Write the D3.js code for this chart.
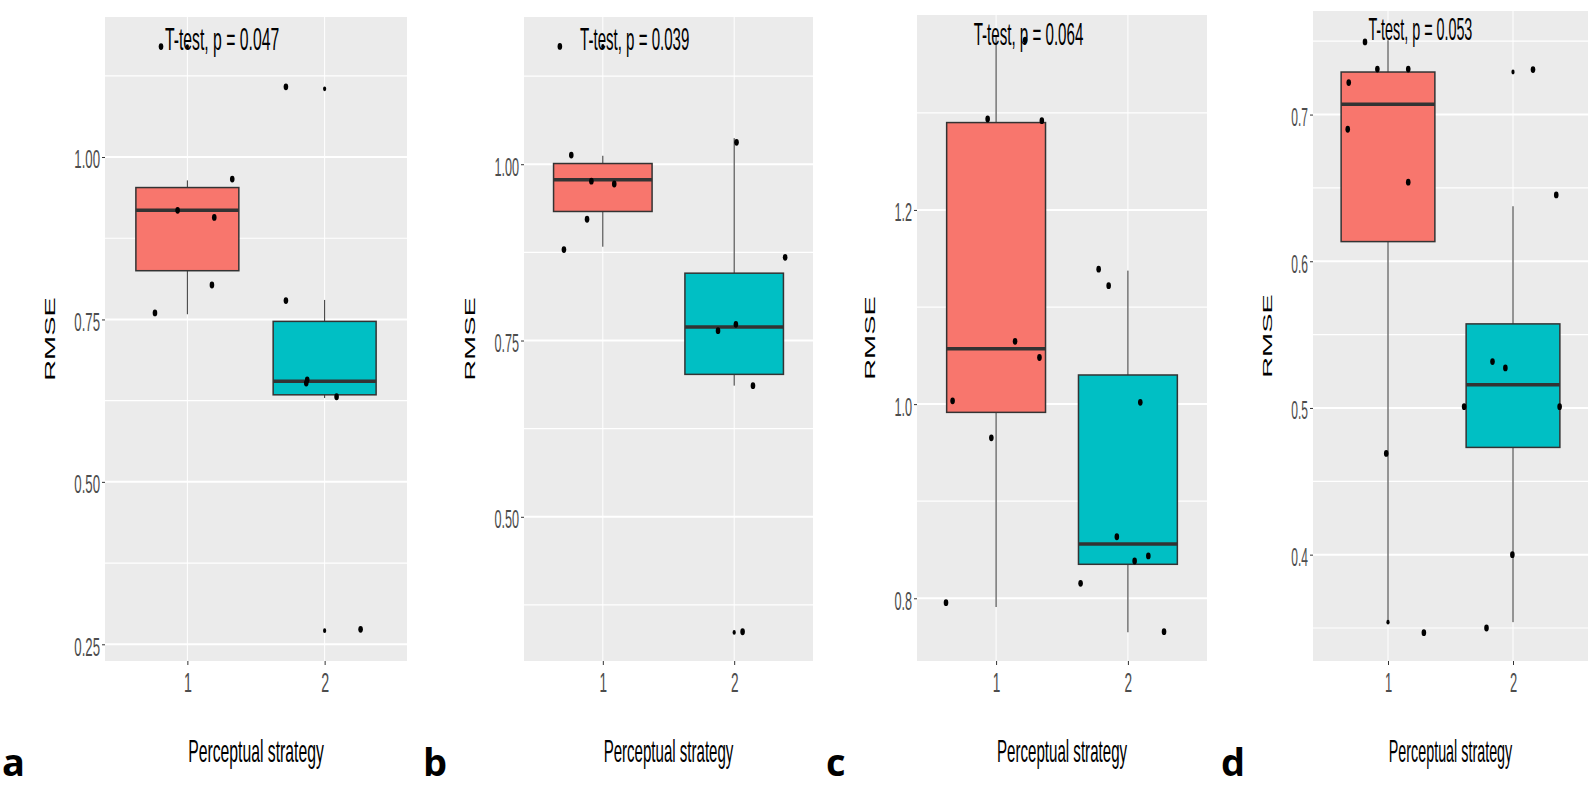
<!DOCTYPE html>
<html>
<head>
<meta charset="utf-8">
<script src="https://cdn.jsdelivr.net/npm/d3@7"></script>
<style>
body { margin: 0; background: #fff; }
svg { display: block; }
</style>
</head>
<body>
<div id="graphic"></div>
<script>
// Panels and groups
const panels = ['a', 'b', 'c', 'd'];
const groups = ['1', '2'];
const groupColors = ['#F8766D', '#00BFC4'];

// T-test annotation per panel, placed in data units (x, y)
const pValues = ['0.047', '0.039', '0.064', '0.053'];
const labelX = [0.837, 0.827, 0.830, 0.843];
const labelY = [1.165, 1.162, 1.370, 0.7506];

// Y scales, ticks and gridlines
const yDomains = [[0.2243, 1.2155], [0.2955, 1.2088], [0.7354, 1.4008], [0.3275, 0.7706]];
const yTicks = [[0.25, 0.50, 0.75, 1.00], [0.50, 0.75, 1.00], [0.8, 1.0, 1.2], [0.4, 0.5, 0.6, 0.7]];
const yTickLabels = [['0.25', '0.50', '0.75', '1.00'], ['0.50', '0.75', '1.00'], ['0.8', '1.0', '1.2'], ['0.4', '0.5', '0.6', '0.7']];
const yMinor = [[0.375, 0.625, 0.875, 1.125], [0.375, 0.625, 0.875, 1.125], [0.9, 1.1, 1.3], [0.35, 0.45, 0.55, 0.65, 0.75]];

// Box stats per panel and group: [lower whisker, Q1, median, Q3, upper whisker]
const boxStats = [
    [[0.758, 0.825, 0.918, 0.953, 0.964], [0.629, 0.634, 0.655, 0.747, 0.780]],
    [[0.883, 0.933, 0.978, 1.001, 1.012], [0.686, 0.702, 0.769, 0.8455, 1.037]],
    [[0.791, 0.9915, 1.057, 1.290, 1.380], [0.765, 0.835, 0.856, 1.030, 1.1375]],
    [[0.354, 0.6134, 0.707, 0.729, 0.7507], [0.354, 0.4731, 0.5159, 0.5573, 0.6375]]
];

// Outliers drawn on the group centre
const outliers = [
    [[1.17], [1.105, 0.271]],
    [[1.167], [0.336]],
    [[], []],
    [[0.354], [0.729]]
];

// Jittered points: [x offset from group centre, RMSE]
const jitter = [
    [
        [[-0.236, 0.760], [-0.071, 0.918], [0.196, 0.907], [0.327, 0.966], [0.179, 0.803], [-0.192, 1.17]],
        [[-0.282, 1.108], [-0.282, 0.779], [-0.134, 0.652], [-0.127, 0.657], [0.087, 0.631], [0.262, 0.273]]
    ],
    [
        [[-0.240, 1.013], [-0.087, 0.976], [0.087, 0.972], [-0.120, 0.922], [-0.296, 0.879], [-0.327, 1.167]],
        [[0.018, 1.031], [0.388, 0.868], [-0.123, 0.764], [0.013, 0.773], [0.143, 0.686], [0.064, 0.337]]
    ],
    [
        [[-0.064, 1.2937], [0.347, 1.292], [0.144, 1.0647], [0.329, 1.048], [-0.330, 1.0034], [-0.036, 0.9653], [-0.380, 0.7955], [0.22, 1.375]],
        [[-0.222, 1.139], [-0.146, 1.122], [0.094, 1.0018], [-0.084, 0.8634], [0.155, 0.8436], [0.051, 0.8384], [-0.359, 0.8154], [0.274, 0.7656]]
    ],
    [
        [[-0.184, 0.7495], [-0.085, 0.731], [0.162, 0.731], [-0.314, 0.7218], [-0.322, 0.690], [0.162, 0.6539], [-0.014, 0.469], [0.287, 0.3468]],
        [[0.160, 0.7307], [0.346, 0.6452], [-0.164, 0.5316], [-0.061, 0.5273], [-0.391, 0.5009], [0.373, 0.5009], [-0.005, 0.40], [-0.212, 0.350]]
    ]
];

(function(d3){

    let width = 1594, height = 788;
    const font = '"Liberation Sans", Arial, Helvetica, sans-serif';

    // Plot area of each panel on the page
    let frames = [
        { x0: 105, x1: 407, y0: 17, y1: 661, letterX: 2 },
        { x0: 524, x1: 813, y0: 17, y1: 661, letterX: 423 },
        { x0: 917, x1: 1207, y0: 15, y1: 661, letterX: 826 },
        { x0: 1313, x1: 1588, y0: 11, y1: 661, letterX: 1221 }
    ];

    let svg = d3.select('#graphic')
                .append('svg')
                .attr('width', width)
                .attr('height', height);

    svg.append('rect').attr('width', width).attr('height', height).attr('fill', '#fff');

    panels.forEach((p, i) => drawPanel(i));

    function drawPanel(i)
    {
        let f = frames[i];
        let x = d3.scaleLinear().domain([0.4, 2.6]).range([f.x0, f.x1]);
        let y = d3.scaleLinear().domain(yDomains[i]).range([f.y1, f.y0]);

        // The source picture was squeezed sideways, so text is too
        let unit = x(2) - x(1);
        let sx = 0.0037 * unit;

        let g = svg.append('g');

        g.append('rect')
         .attr('x', f.x0).attr('y', f.y0)
         .attr('width', f.x1 - f.x0).attr('height', f.y1 - f.y0)
         .attr('fill', '#ebebeb');

        // Gridlines
        g.selectAll(null).data(yMinor[i]).join('line')
         .attr('x1', f.x0).attr('x2', f.x1)
         .attr('y1', d => y(d)).attr('y2', d => y(d))
         .attr('stroke', '#fff').attr('stroke-width', 1.2);

        g.selectAll(null).data(yTicks[i]).join('line')
         .attr('x1', f.x0).attr('x2', f.x1)
         .attr('y1', d => y(d)).attr('y2', d => y(d))
         .attr('stroke', '#fff').attr('stroke-width', 2);

        g.selectAll(null).data([1, 2]).join('line')
         .attr('x1', d => x(d)).attr('x2', d => x(d))
         .attr('y1', f.y0).attr('y2', f.y1)
         .attr('stroke', '#fff').attr('stroke-width', 1);

        // Boxes, outliers and jittered points
        groups.forEach((grp, j) => {
            let s = boxStats[i][j];
            let cx = x(j + 1);
            let hw = 0.375 * unit;

            g.append('line')
             .attr('x1', cx).attr('x2', cx)
             .attr('y1', y(s[0])).attr('y2', y(s[4]))
             .attr('stroke', '#333').attr('stroke-width', 1);

            g.append('rect')
             .attr('x', cx - hw).attr('y', y(s[3]))
             .attr('width', 2 * hw).attr('height', y(s[1]) - y(s[3]))
             .attr('fill', groupColors[j])
             .attr('stroke', '#333').attr('stroke-width', 1.5);

            g.append('line')
             .attr('x1', cx - hw).attr('x2', cx + hw)
             .attr('y1', y(s[2])).attr('y2', y(s[2]))
             .attr('stroke', '#333').attr('stroke-width', 3.5);

            g.selectAll(null).data(outliers[i][j]).join('ellipse')
             .attr('cx', cx).attr('cy', d => y(d))
             .attr('rx', 1.6).attr('ry', 2.4)
             .attr('fill', '#000');

            g.selectAll(null).data(jitter[i][j]).join('ellipse')
             .attr('cx', d => x(j + 1 + d[0])).attr('cy', d => y(d[1]))
             .attr('rx', 2.3).attr('ry', 3.4)
             .attr('fill', '#000');
        });

        // T-test annotation
        g.append('text')
         .attr('transform', `translate(${x(labelX[i])},${y(labelY[i])}) scale(${sx},1)`)
         .style('font-family', font).style('font-size', '31px')
         .attr('fill', '#000')
         .text(`T-test, p = ${pValues[i]}`);

        // Y axis
        let ya = g.append('g')
            .attr('transform', `translate(${f.x0},0)`)
            .call(d3.axisLeft(y)
                .tickValues(yTicks[i])
                .tickFormat((d, k) => yTickLabels[i][k])
                .tickSize(3)
                .tickPadding(0));
        ya.select('.domain').remove();
        ya.selectAll('.tick line').attr('stroke', '#333');
        ya.selectAll('.tick text')
          .attr('x', -5 / sx)
          .attr('dy', '0.42em')
          .attr('transform', `scale(${sx},1)`)
          .attr('fill', '#4d4d4d')
          .style('font-family', font).style('font-size', '26px');

        // X axis
        let xa = g.append('g')
            .attr('transform', `translate(0,${f.y1})`)
            .call(d3.axisBottom(x)
                .tickValues([1, 2])
                .tickFormat(d => groups[d - 1])
                .tickSize(4)
                .tickPadding(7));
        xa.select('.domain').remove();
        xa.selectAll('.tick line').attr('stroke', '#333');
        xa.selectAll('.tick text')
          .attr('transform', `scale(${sx},1)`)
          .attr('fill', '#4d4d4d')
          .style('font-family', font).style('font-size', '28px');

        // Axis titles
        let bb = ya.node().getBBox();
        let rmseRight = f.x0 + bb.x - 19;
        g.append('text')
         .attr('transform', `translate(${rmseRight},${(f.y0 + f.y1) / 2}) scale(${sx},1) rotate(-90)`)
         .attr('text-anchor', 'middle')
         .style('font-family', font).style('font-size', '29px')
         .attr('fill', '#000')
         .text('RMSE');

        g.append('text')
         .attr('transform', `translate(${(f.x0 + f.x1) / 2},761.5) scale(${sx},1)`)
         .attr('text-anchor', 'middle')
         .style('font-family', font).style('font-size', '31px')
         .attr('fill', '#000')
         .text('Perceptual strategy');

        // Panel letter
        g.append('text')
         .attr('x', f.letterX).attr('y', 776)
         .style('font-family', '"Open Sans", "DejaVu Sans", sans-serif')
         .style('font-size', '38px').style('font-weight', 'bold')
         .attr('fill', '#000')
         .text(panels[i]);
    }

})(window.d3);
</script>
</body>
</html>
